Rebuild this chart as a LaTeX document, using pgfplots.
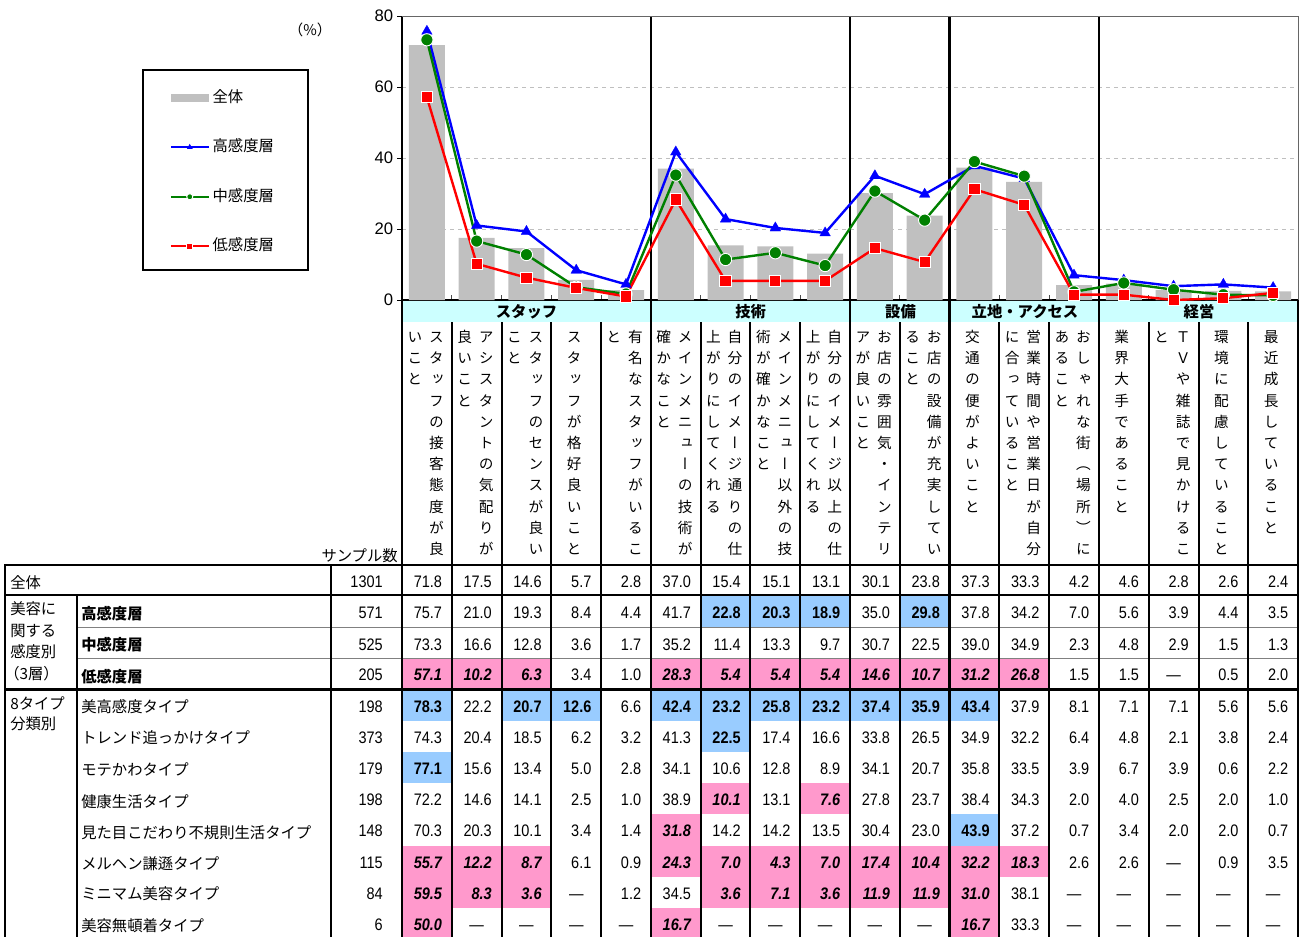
\documentclass[border=0pt]{standalone}
\usepackage{fontspec}
\usepackage{pgfplots}
\pgfplotsset{compat=1.18}
\setmainfont{Liberation Sans}
\newfontfamily\jp{Noto Sans CJK JP}
\newfontfamily\jpv[RawFeature=+vert]{Noto Sans CJK JP}
\newfontfamily\numfont[FakeStretch=0.87]{Liberation Sans}
\definecolor{barcol}{HTML}{C0C0C0}
\definecolor{bandcol}{HTML}{CCFFFF}
\definecolor{hiblue}{HTML}{99CCFF}
\definecolor{hipink}{HTML}{FF99CC}
\definecolor{lblue}{HTML}{0000FF}
\definecolor{lgreen}{HTML}{008000}
\definecolor{lred}{HTML}{FF0000}
\newcommand\NF{\numfont\fontsize{12.5}{13}\selectfont}
\newcommand\JF{\jp\fontsize{11.5}{12}\selectfont}
\newcommand\vchar[1]{\hbox to 15.75pt{\hss\vrule height 12.1pt depth 3.8pt width 0pt\smash{#1}\hss}}
\ExplSyntaxOn
\NewDocumentCommand\vt{m}{\vbox{\offinterlineskip\tl_map_inline:nn{#1}{\vchar{##1}}}}
\ExplSyntaxOff
\newcommand\vlab[3]{%
  \pgfmathsetmacro\xc{402+49.78*(#1-0.5)}%
  \node[anchor=north, inner sep=0pt, font=\jpv\fontsize{11}{11}\selectfont] at (\xc+9.5,326) {\vt{#2}};
  \node[anchor=north, inner sep=0pt, font=\jpv\fontsize{11}{11}\selectfont] at (\xc-12,326) {\vt{#3}};
}
\newcommand\vlabs[2]{%
  \pgfmathsetmacro\xc{402+49.78*(#1-0.5)}%
  \node[anchor=north, inner sep=0pt, font=\jpv\fontsize{11}{11}\selectfont] at (\xc-2,326) {\vt{#2}};
}
\newcommand\datarow[4]{%
  \pgfmathsetmacro\yc{(#1+#2)/2+7}%
  \node[anchor=base east, inner sep=0pt, font=\NF] at (383,\yc) {#3};
  \foreach \val/\sty [count=\ci] in {#4} {
    \pgfmathsetmacro\xl{402+49.78*(\ci-1)}
    \pgfmathsetmacro\xr{402+49.78*\ci}
    \ifcase\sty\relax
      \node[anchor=base east, inner sep=0pt, font=\NF] at (\xr-9.5,\yc) {\val};
    \or
      \fill[hiblue] (\xl,#1) rectangle (\xr,#2);
      \node[anchor=base east, inner sep=0pt, font=\NF\bfseries] at (\xr-9.5,\yc) {\val};
    \or
      \fill[hipink] (\xl,#1) rectangle (\xr,#2);
      \node[anchor=base east, inner sep=0pt, font=\NF\bfseries\itshape] at (\xr-9.5,\yc) {\val};
    \or
      \node[anchor=base, inner sep=0pt, font=\NF] at (\xl+24.9,\yc) {—};
    \fi
  }
}
\begin{document}
\begin{tikzpicture}
\begin{scope}[x=0.75pt,y=-0.75pt]
  \fill[bandcol] (402,300) rectangle (1298,322);
  \draw[line width=1.1pt] (143,70) rectangle (308,270);
  \node[font=\jp\fontsize{11}{11}\selectfont] at (310,30) {（\%）};
\end{scope}
\begin{axis}[
  at={(301.5pt,-225pt)}, anchor=south west,
  scale only axis, width=672pt, height=213pt,
  xmin=0.5, xmax=18.5, ymin=0, ymax=80,
  clip=false,
  axis x line*=bottom, axis y line*=left,
  x axis line style={line width=2pt, -},
  y axis line style={line width=1.5pt, -},
  xtick={1.5,2.5,...,17.5}, xticklabels={},
  xtick align=inside, ytick align=outside,
  major tick length=3.5pt,
  xtick style={draw=black!70, line width=0.6pt},
  ytick style={draw=black, line width=0.6pt},
  ytick={0,20,40,60,80}, yticklabels={0,20,40,60,80},
  yticklabel style={font=\fontsize{12.5}{13}\selectfont, inner sep=2pt, xshift=-1pt},
  ymajorgrids, grid style={dashed, black!25, line width=0.6pt},
  legend style={at={(-0.2597,0.4507)}, anchor=west, draw=none, fill=none,
    inner sep=0pt, row sep=21.6pt, column sep=0pt,
    font=\jp\fontsize{11.5}{12}\selectfont,
    nodes={inner sep=2pt, text height=9pt, text depth=2.5pt}},
  legend cell align=left,
  legend image code/.code={\draw[mark repeat=2,mark phase=2,#1] plot coordinates {(0pt,0pt) (14.25pt,0pt) (28.5pt,0pt)};},
  legend image post style={mark size=2.3pt},
]
\draw[line width=2pt] (axis cs:5.5,0) -- (axis cs:5.5,80);
\draw[line width=2pt] (axis cs:9.5,0) -- (axis cs:9.5,80);
\draw[line width=2pt] (axis cs:11.5,0) -- (axis cs:11.5,80);
\draw[line width=2pt] (axis cs:14.5,0) -- (axis cs:14.5,80);
\draw[black!60, line width=0.6pt] (axis cs:0.5,80) -- (axis cs:18.5,80) -- (axis cs:18.5,0);
\addplot[ybar, bar width=27pt, fill=barcol, draw=none,
  legend image code/.code={\fill[barcol] (0pt,-3pt) rectangle (28.5pt,3pt);}]
  coordinates {(1,71.8)(2,17.5)(3,14.6)(4,5.7)(5,2.8)(6,37.0)(7,15.4)(8,15.1)(9,13.1)(10,30.1)(11,23.8)(12,37.3)(13,33.3)(14,4.2)(15,4.6)(16,2.8)(17,2.6)(18,2.4)};
\addlegendentry{全体}
\addplot[lblue, line width=1.8pt, mark=triangle*, mark size=4.6pt, mark options={solid, fill=lblue, draw=lblue, line width=0.2pt}]
  coordinates {(1,75.7)(2,21.0)(3,19.3)(4,8.4)(5,4.4)(6,41.7)(7,22.8)(8,20.3)(9,18.9)(10,35.0)(11,29.8)(12,37.8)(13,34.2)(14,7.0)(15,5.6)(16,3.9)(17,4.4)(18,3.5)};
\addlegendentry{高感度層}
\addplot[lgreen, line width=1.8pt, mark=*, mark size=4.6pt, mark options={solid, fill=lgreen, draw=white, line width=0.7pt}]
  coordinates {(1,73.3)(2,16.6)(3,12.8)(4,3.6)(5,1.7)(6,35.2)(7,11.4)(8,13.3)(9,9.7)(10,30.7)(11,22.5)(12,39.0)(13,34.9)(14,2.3)(15,4.8)(16,2.9)(17,1.5)(18,1.3)};
\addlegendentry{中感度層}
\addplot[lred, line width=1.8pt, mark=square*, mark size=4.2pt, mark options={solid, fill=lred, draw=white, line width=0.7pt}]
  coordinates {(1,57.1)(2,10.2)(3,6.3)(4,3.4)(5,1.0)(6,28.3)(7,5.4)(8,5.4)(9,5.4)(10,14.6)(11,10.7)(12,31.2)(13,26.8)(14,1.5)(15,1.5)(16,0)(17,0.5)(18,2.0)};
\addlegendentry{低感度層}
\end{axis}
\begin{scope}[x=0.75pt,y=-0.75pt]
  % group headers
  \node[anchor=base, inner sep=0pt, font=\JF\bfseries] at (526.5,317) {スタッフ};
  \node[anchor=base, inner sep=0pt, font=\JF\bfseries] at (750.7,317) {技術};
  \node[anchor=base, inner sep=0pt, font=\JF\bfseries] at (900.5,317) {設備};
  \node[anchor=base, inner sep=0pt, font=\JF\bfseries] at (1025,317) {立地・アクセス};
  \node[anchor=base, inner sep=0pt, font=\JF\bfseries] at (1199,317) {経営};
  % vertical labels
  \vlab{1}{スタッフの接客態度が良}{いこと}
  \vlab{2}{アシスタントの気配りが}{良いこと}
  \vlab{3}{スタッフのセンスが良い}{こと}
  \vlabs{4}{スタッフが格好良いこと}
  \vlab{5}{有名なスタッフがいるこ}{と}
  \vlab{6}{メインメニューの技術が}{確かなこと}
  \vlab{7}{自分のイメージ通りの仕}{上がりにしてくれる}
  \vlab{8}{メインメニュー以外の技}{術が確かなこと}
  \vlab{9}{自分のイメージ以上の仕}{上がりにしてくれる}
  \vlab{10}{お店の雰囲気・インテリ}{アが良いこと}
  \vlab{11}{お店の設備が充実してい}{ること}
  \vlabs{12}{交通の便がよいこと}
  \vlab{13}{営業時間や営業日が自分}{に合っていること}
  \vlab{14}{おしゃれな街（場所）に}{あること}
  \vlabs{15}{業界大手であること}
  \vlab{16}{ＴＶや雑誌で見かけるこ}{と}
  \vlabs{17}{環境に配慮していること}
  \vlabs{18}{最近成長していること}
  % left labels
  \node[anchor=base east, inner sep=0pt, font=\JF] at (398,561) {サンプル数};
  \node[anchor=base west, inner sep=0pt, font=\JF] at (10,588) {全体};
  \node[anchor=base west, inner sep=0pt, font=\JF] at (10,614) {美容に};
  \node[anchor=base west, inner sep=0pt, font=\JF] at (10,636) {関する};
  \node[anchor=base west, inner sep=0pt, font=\JF] at (10,657) {感度別};
  \node[anchor=base west, inner sep=0pt, font=\JF] at (4,679) {（3層）};
  \node[anchor=base west, inner sep=0pt, font=\JF\bfseries] at (81,619) {高感度層};
  \node[anchor=base west, inner sep=0pt, font=\JF\bfseries] at (81,650) {中感度層};
  \node[anchor=base west, inner sep=0pt, font=\JF\bfseries] at (81,682) {低感度層};
  \node[anchor=base west, inner sep=0pt, font=\JF] at (10,709) {8タイプ};
  \node[anchor=base west, inner sep=0pt, font=\JF] at (10,729) {分類別};
  \node[anchor=base west, inner sep=0pt, font=\JF] at (81,712.5) {美高感度タイプ};
  \node[anchor=base west, inner sep=0pt, font=\JF] at (81,743.8) {トレンド追っかけタイプ};
  \node[anchor=base west, inner sep=0pt, font=\JF] at (81,775.8) {モテかわタイプ};
  \node[anchor=base west, inner sep=0pt, font=\JF] at (81,807.5) {健康生活タイプ};
  \node[anchor=base west, inner sep=0pt, font=\JF] at (81,838.1) {見た目こだわり不規則生活タイプ};
  \node[anchor=base west, inner sep=0pt, font=\JF] at (81,869.1) {メルヘン謙遜タイプ};
  \node[anchor=base west, inner sep=0pt, font=\JF] at (81,899.8) {ミニマム美容タイプ};
  \node[anchor=base west, inner sep=0pt, font=\JF] at (81,931.5) {美容無頓着タイプ};
  % data rows
  \datarow{565}{595}{1301}{71.8/0,17.5/0,14.6/0,5.7/0,2.8/0,37.0/0,15.4/0,15.1/0,13.1/0,30.1/0,23.8/0,37.3/0,33.3/0,4.2/0,4.6/0,2.8/0,2.6/0,2.4/0}
  \datarow{595}{627.7}{571}{75.7/0,21.0/0,19.3/0,8.4/0,4.4/0,41.7/0,22.8/1,20.3/1,18.9/1,35.0/0,29.8/1,37.8/0,34.2/0,7.0/0,5.6/0,3.9/0,4.4/0,3.5/0}
  \datarow{627.7}{658.5}{525}{73.3/0,16.6/0,12.8/0,3.6/0,1.7/0,35.2/0,11.4/0,13.3/0,9.7/0,30.7/0,22.5/0,39.0/0,34.9/0,2.3/0,4.8/0,2.9/0,1.5/0,1.3/0}
  \datarow{658.5}{689}{205}{57.1/2,10.2/2,6.3/2,3.4/0,1.0/0,28.3/2,5.4/2,5.4/2,5.4/2,14.6/2,10.7/2,31.2/2,26.8/2,1.5/0,1.5/0,-/3,0.5/0,2.0/0}
  \datarow{690}{721.1}{198}{78.3/1,22.2/0,20.7/1,12.6/1,6.6/0,42.4/1,23.2/1,25.8/1,23.2/1,37.4/1,35.9/1,43.4/1,37.9/0,8.1/0,7.1/0,7.1/0,5.6/0,5.6/0}
  \datarow{721.1}{752.2}{373}{74.3/0,20.4/0,18.5/0,6.2/0,3.2/0,41.3/0,22.5/1,17.4/0,16.6/0,33.8/0,26.5/0,34.9/0,32.2/0,6.4/0,4.8/0,2.1/0,3.8/0,2.4/0}
  \datarow{752.2}{783.3}{179}{77.1/1,15.6/0,13.4/0,5.0/0,2.8/0,34.1/0,10.6/0,12.8/0,8.9/0,34.1/0,20.7/0,35.8/0,33.5/0,3.9/0,6.7/0,3.9/0,0.6/0,2.2/0}
  \datarow{783.3}{814.4}{198}{72.2/0,14.6/0,14.1/0,2.5/0,1.0/0,38.9/0,10.1/2,13.1/0,7.6/2,27.8/0,23.7/0,38.4/0,34.3/0,2.0/0,4.0/0,2.5/0,2.0/0,1.0/0}
  \datarow{814.4}{845.5}{148}{70.3/0,20.3/0,10.1/0,3.4/0,1.4/0,31.8/2,14.2/0,14.2/0,13.5/0,30.4/0,23.0/0,43.9/1,37.2/0,0.7/0,3.4/0,2.0/0,2.0/0,0.7/0}
  \datarow{845.5}{876.6}{115}{55.7/2,12.2/2,8.7/2,6.1/0,0.9/0,24.3/2,7.0/2,4.3/2,7.0/2,17.4/2,10.4/2,32.2/2,18.3/2,2.6/0,2.6/0,-/3,0.9/0,3.5/0}
  \datarow{876.6}{907.7}{84}{59.5/2,8.3/2,3.6/2,-/3,1.2/0,34.5/0,3.6/2,7.1/2,3.6/2,11.9/2,11.9/2,31.0/2,38.1/0,-/3,-/3,-/3,-/3,-/3}
  \datarow{907.7}{938.8}{6}{50.0/2,-/3,-/3,-/3,-/3,16.7/2,-/3,-/3,-/3,-/3,-/3,16.7/2,33.3/0,-/3,-/3,-/3,-/3,-/3}
  % grid lines
  \draw[line width=1.5pt] (5,565) -- (1298,565);
  \draw[line width=2.2pt] (5,595) -- (1298,595);
  \draw[black!50, line width=0.75pt] (77,627.7) -- (1298,627.7);
  \draw[black!50, line width=0.75pt] (77,658.5) -- (1298,658.5);
  \draw[line width=2.4pt] (5,689.5) -- (1298,689.5);
  \draw[line width=1.5pt] (5,564) -- (5,945);
  \draw[line width=1.5pt] (77,595) -- (77,945);
  \draw[line width=1.5pt] (331,564) -- (331,945);
  \draw[line width=2pt] (402,300) -- (402,945);
  \foreach \k in {1,2,3,4,6,7,8,10,12,13,15,16,17} \draw[line width=1.5pt] (402+49.78*\k,322) -- (402+49.78*\k,945);
  \foreach \k in {5,9,11,14} \draw[line width=2pt] (402+49.78*\k,300) -- (402+49.78*\k,945);
  \draw[line width=1.5pt] (1298,300) -- (1298,945);
  \pgfresetboundingbox
  \path (0,0) rectangle (1301,936);
\end{scope}
\end{tikzpicture}
\end{document}
